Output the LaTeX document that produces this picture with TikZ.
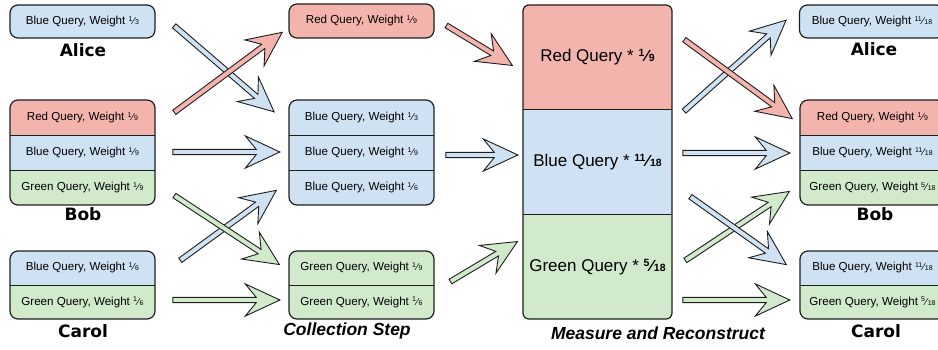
\documentclass[tikz,border=0pt]{standalone}
\usepackage{fontspec}
\setmainfont{Liberation Sans}
\newfontfamily\namefont{DejaVu Sans}
\usetikzlibrary{positioning,calc,shapes.arrows}
\definecolor{qred}{HTML}{F4B4AE}
\definecolor{qblue}{HTML}{CFE2F3}
\definecolor{qgreen}{HTML}{D0EACB}
\definecolor{qline}{HTML}{1E1E1E}
\newcommand{\wf}[2]{\raisebox{3.2pt}{\fontsize{7}{7}\selectfont#1}\kern0.5pt{\fontsize{10}{10}\selectfont\char"2044}\kern0.5pt{\fontsize{7}{7}\selectfont#2}}
\newcommand{\mf}[2]{{\bfseries\raisebox{5pt}{\fontsize{10.5}{10}\selectfont#1}\kern0.9pt{\fontsize{16}{15}\selectfont\char"2044}\kern0.9pt{\fontsize{10.5}{10}\selectfont#2}}}
\newcommand{\blockarrow}[3]{%
	\path let \p1=($(#3)-(#2)$), \n1={atan2(\y1,\x1)}, \n2={veclen(\x1,\y1)} in
		node[qarrow, fill=#1, rotate=\n1, minimum height=\n2] at ($(#2)!0.5!(#3)$) {};%
}
\begin{document}
\begin{tikzpicture}[
		x=1pt, y=-1pt,
		qrow/.style={minimum width=145, minimum height=#1, inner sep=0, outer sep=0, font=\fontsize{11.6}{13}\selectfont},
		qrow/.default=34,
		qframe/.style={draw=qline, line width=1.2, rounded corners=8},
		qname/.style={font=\namefont\fontsize{17}{20}\selectfont\bfseries},
		qstep/.style={font=\fontsize{17.5}{20}\selectfont\bfseries\itshape},
		qarrow/.style={single arrow, draw=qline, line width=0.9, inner sep=2.2, outer sep=0,
				single arrow head extend=13.5, single arrow tip angle=50, single arrow head indent=11}
	]
	\path[fill=white] (0,0) rectangle (938,350);
	\useasboundingbox (0,0) rectangle (938,350);
	\clip (0,0) rectangle (938,350);

	\node[qrow=33, qframe, fill=qblue] (aliceLB) at (82.5,21.5) {Blue Query, Weight \wf{1}{3}};
	\node[qname] (aliceL) at (83,50) {Alice};

	\begin{scope}
		\clip[rounded corners=8] (10,100) rectangle (155,205);
		\node[qrow=35, fill=qred] (bobLR) at (82.5,117.5) {Red Query, Weight \wf{1}{9}};
		\node[qrow=35, fill=qblue, below=0pt of bobLR] (bobLB) {Blue Query, Weight \wf{1}{9}};
		\node[qrow=35, fill=qgreen, below=0pt of bobLB] (bobLG) {Green Query, Weight \wf{1}{9}};
	\end{scope}
	\draw[qframe] (bobLR.north west) rectangle (bobLG.south east);
	\draw[qline] (bobLR.south west) -- (bobLR.south east) (bobLB.south west) -- (bobLB.south east);
	\node[qname] (bobL) at (83,214) {Bob};

	\begin{scope}
		\clip[rounded corners=8] (10,251) rectangle (155,319);
		\node[qrow, fill=qblue] (carolLB) at (82.5,268) {Blue Query, Weight \wf{1}{6}};
		\node[qrow, fill=qgreen, below=0pt of carolLB] (carolLG) {Green Query, Weight \wf{1}{6}};
	\end{scope}
	\draw[qframe] (carolLB.north west) rectangle (carolLG.south east);
	\draw[qline] (carolLB.south west) -- (carolLB.south east);
	\node[qname] (carolL) at (83,331) {Carol};

	\node[qrow, qframe, fill=qred] (collR) at (361.5,21) {Red Query, Weight \wf{1}{9}};
	\begin{scope}
		\clip[rounded corners=8] (289,100) rectangle (434,205);
		\node[qrow=35, fill=qblue] (collB1) at (361.5,117.5) {Blue Query, Weight \wf{1}{3}};
		\node[qrow=35, fill=qblue, below=0pt of collB1] (collB2) {Blue Query, Weight \wf{1}{9}};
		\node[qrow=35, fill=qblue, below=0pt of collB2] (collB3) {Blue Query, Weight \wf{1}{6}};
	\end{scope}
	\draw[qframe] (collB1.north west) rectangle (collB3.south east);
	\draw[qline] (collB1.south west) -- (collB1.south east) (collB2.south west) -- (collB2.south east);
	\begin{scope}
		\clip[rounded corners=8] (289,251) rectangle (434,319);
		\node[qrow, fill=qgreen] (collG1) at (361.5,268) {Green Query, Weight \wf{1}{9}};
		\node[qrow, fill=qgreen, below=0pt of collG1] (collG2) {Green Query, Weight \wf{1}{6}};
	\end{scope}
	\draw[qframe] (collG1.north west) rectangle (collG2.south east);
	\draw[qline] (collG1.south west) -- (collG1.south east);
	\node[qstep] (collL) at (347,331) {Collection Step};

	\begin{scope}
		\clip[rounded corners=6] (523,5) rectangle (672,319);
		\node[qrow=104.67, minimum width=149, fill=qred, font=\fontsize{17}{20}\selectfont] (measR) at (597.5,57.33) {Red Query * \mf{1}{9}};
		\node[qrow=104.67, minimum width=149, fill=qblue, font=\fontsize{17}{20}\selectfont, below=0pt of measR] (measB) {Blue Query * \mf{11}{18}};
		\node[qrow=104.67, minimum width=149, fill=qgreen, font=\fontsize{17}{20}\selectfont, below=0pt of measB] (measG) {Green Query * \mf{5}{18}};
	\end{scope}
	\draw[qframe, rounded corners=6] (measR.north west) rectangle (measG.south east);
	\draw[qline] (measR.south west) -- (measR.south east) (measB.south west) -- (measB.south east);
	\node[qstep] (measL) at (658,333) {Measure and Reconstruct};

	\node[qrow=33, qframe, fill=qblue] (aliceRB) at (872,21.5) {Blue Query, Weight \wf{11}{18}};
	\node[qname] (aliceR) at (874,49) {Alice};

	\begin{scope}
		\clip[rounded corners=8] (800,100) rectangle (945,205);
		\node[qrow=35, fill=qred] (bobRR) at (872.5,117.5) {Red Query, Weight \wf{1}{9}};
		\node[qrow=35, fill=qblue, below=0pt of bobRR] (bobRB) {Blue Query, Weight \wf{11}{18}};
		\node[qrow=35, fill=qgreen, below=0pt of bobRB] (bobRG) {Green Query, Weight \wf{5}{18}};
	\end{scope}
	\draw[qframe] (bobRR.north west) rectangle (bobRG.south east);
	\draw[qline] (bobRR.south west) -- (bobRR.south east) (bobRB.south west) -- (bobRB.south east);
	\node[qname] (bobR) at (875,214) {Bob};

	\begin{scope}
		\clip[rounded corners=8] (800,251) rectangle (945,319);
		\node[qrow, fill=qblue] (carolRB) at (872.5,268) {Blue Query, Weight \wf{11}{18}};
		\node[qrow, fill=qgreen, below=0pt of carolRB] (carolRG) {Green Query, Weight \wf{5}{18}};
	\end{scope}
	\draw[qframe] (carolRB.north west) rectangle (carolRG.south east);
	\draw[qline] (carolRB.south west) -- (carolRB.south east);
	\node[qname] (carolR) at (876,331) {Carol};

	\coordinate (a1) at (172,24);  \coordinate (b1) at (272,110);
	\coordinate (a2) at (172,114); \coordinate (b2) at (280,34);
	\coordinate (a3) at (170,152); \coordinate (b3) at (277,152);
	\coordinate (a4) at (172,194); \coordinate (b4) at (277,263);
	\coordinate (a5) at (178,262); \coordinate (b5) at (274,192);
	\coordinate (a6) at (170,300); \coordinate (b6) at (277,300);
	\coordinate (a7) at (444,24);  \coordinate (b7) at (510,64);
	\coordinate (a8) at (443,155); \coordinate (b8) at (515,155);
	\coordinate (a9) at (448,283); \coordinate (b9) at (515,243);
	\coordinate (a10) at (682,113); \coordinate (b10) at (784,22);
	\coordinate (a11) at (682,38);  \coordinate (b11) at (790,117);
	\coordinate (a12) at (680,153); \coordinate (b12) at (787,153);
	\coordinate (a13) at (688,195); \coordinate (b13) at (784,263);
	\coordinate (a14) at (683,262); \coordinate (b14) at (787,193);
	\coordinate (a15) at (680,300); \coordinate (b15) at (787,300);

	\blockarrow{qblue}{a1}{b1}
	\blockarrow{qred}{a2}{b2}
	\blockarrow{qblue}{a3}{b3}
	\blockarrow{qblue}{a5}{b5}
	\blockarrow{qgreen}{a4}{b4}
	\blockarrow{qgreen}{a6}{b6}
	\blockarrow{qred}{a7}{b7}
	\blockarrow{qblue}{a8}{b8}
	\blockarrow{qgreen}{a9}{b9}
	\blockarrow{qblue}{a10}{b10}
	\blockarrow{qred}{a11}{b11}
	\blockarrow{qblue}{a12}{b12}
	\blockarrow{qgreen}{a14}{b14}
	\blockarrow{qblue}{a13}{b13}
	\blockarrow{qgreen}{a15}{b15}
\end{tikzpicture}
\end{document}
